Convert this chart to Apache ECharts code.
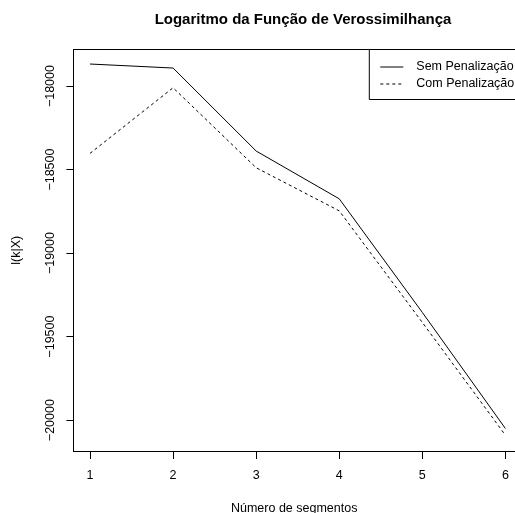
<!DOCTYPE html>
<html>
<head>
<meta charset="utf-8">
<script src="https://cdn.jsdelivr.net/npm/echarts@6/dist/echarts.min.js"></script>
<style>
html,body{margin:0;padding:0;background:#fff;}
#chart{width:515px;height:513px;}
</style>
</head>
<body>
<div id="chart"></div>
<script>
var segments = [1, 2, 3, 4, 5, 6];
var semPenalizacao = [-17868, -17892, -18389, -18675, -19355, -20050];
var comPenalizacao = [-18403, -18010, -18489, -18747, -19415, -20090];
var xTicks = [1, 2, 3, 4, 5, 6];
var yTicks = [-20000, -19500, -19000, -18500, -18000];

var FONT = '"Liberation Sans", Arial, Helvetica, sans-serif';

function pairs(xs, ys) { return xs.map(function (x, i) { return [x, ys[i]]; }); }

// R plot region spans x 0.8..6.2 over 448.6px; the window cuts it at 515px.
var X_MIN = 0.8;
var X_VISIBLE_MAX = 0.8 + (515 - 73.4) * (5.4 / 448.6);

var chart = echarts.init(document.getElementById('chart'), null, { renderer: 'canvas' });
chart.setOption({
  animation: false,
  backgroundColor: '#fff',
  title: {
    text: 'Logaritmo da Função de Verossimilhança',
    left: 298, top: 7, textAlign: 'center',
    textStyle: { fontFamily: FONT, fontSize: 15, fontWeight: 'bold', color: '#000' }
  },
  grid: {
    left: 73.4, top: 49.5, right: 0, height: 401.5,
    show: false, containLabel: false, outerBoundsMode: 'none'
  },
  legend: {
    orient: 'vertical', left: 369.3, top: 49.5,
    padding: [11, 30, 9, 10.5],
    itemWidth: 23, itemHeight: 12, itemGap: 4,
    backgroundColor: '#fff', borderColor: '#000', borderWidth: 1, borderRadius: 0,
    itemStyle: { opacity: 0 },
    lineStyle: { width: 1 },
    textStyle: { fontFamily: FONT, fontSize: 12.5, color: '#000', padding: [0, 0, 0, 8] },
    data: ['Sem Penalização', 'Com Penalização']
  },
  xAxis: [
    {
      type: 'value', min: X_MIN, max: X_VISIBLE_MAX,
      name: 'Número de segmentos', nameLocation: 'middle', nameGap: 51,
      nameTextStyle: { fontFamily: FONT, fontSize: 12.5, color: '#000' },
      axisLine: { show: true, onZero: false, lineStyle: { color: '#000', width: 1 } },
      axisTick: { show: true, length: 8, customValues: xTicks, lineStyle: { color: '#000' } },
      axisLabel: { customValues: xTicks, margin: 18, fontFamily: FONT, fontSize: 12.5, color: '#000' },
      splitLine: { show: false }
    },
    {
      type: 'value', position: 'top', min: X_MIN, max: X_VISIBLE_MAX,
      axisLine: { show: true, onZero: false, lineStyle: { color: '#000', width: 1 } },
      axisTick: { show: false }, axisLabel: { show: false }, splitLine: { show: false }
    }
  ],
  yAxis: {
    type: 'value', min: -20185, max: -17781,
    name: 'l(k|X)', nameLocation: 'middle', nameGap: 50,
    nameTextStyle: { fontFamily: FONT, fontSize: 12.5, color: '#000' },
    axisLine: { show: true, onZero: false, lineStyle: { color: '#000', width: 1 } },
    axisTick: { show: true, length: 7, customValues: yTicks, lineStyle: { color: '#000' } },
    axisLabel: {
      customValues: yTicks, rotate: 90, margin: 16,
      fontFamily: FONT, fontSize: 12.5, color: '#000',
      formatter: function (v) { return String(v).replace('-', '\u2212'); }
    },
    splitLine: { show: false }
  },
  series: [
    {
      name: 'Sem Penalização', type: 'line', data: pairs(segments, semPenalizacao),
      symbol: 'none', color: '#000', clip: true,
      lineStyle: { color: '#000', width: 1, type: 'solid' }
    },
    {
      name: 'Com Penalização', type: 'line', data: pairs(segments, comPenalizacao),
      symbol: 'none', color: '#000', clip: true,
      lineStyle: { color: '#000', width: 1, type: [3, 3] }
    }
  ]
});
</script>
</body>
</html>
